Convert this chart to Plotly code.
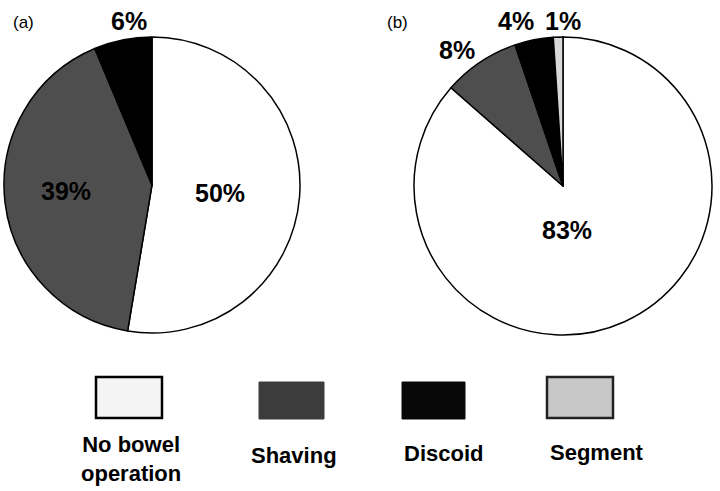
import plotly.graph_objects as go

# Pie (a)
labels_a = ["No bowel operation", "Shaving", "Discoid"]
values_a = [50, 39, 6]
text_a = ["50%", "39%", "6%"]

# Pie (b)
labels_b = ["No bowel operation", "Shaving", "Discoid", "Segment"]
values_b = [83, 8, 4, 1]
text_b = ["83%", "8%", "4%", "1%"]

# Legend entries
legend_names = ["No bowel<br>operation", "Shaving", "Discoid", "Segment"]

FONT = "Liberation Sans, Arial, sans-serif"
W, H = 720, 491

slice_colors = {
    "No bowel operation": "#ffffff",
    "Shaving": "#4e4e4e",
    "Discoid": "#000000",
    "Segment": "#d9d9d9",
}
legend_colors = ["#f4f4f4", "#3c3c3c", "#080808", "#c8c8c8"]
legend_borders = ["#000000", "#3c3c3c", "#080808", "#222222"]


def px_x(x):
    return x / W


def px_y(y):
    return 1 - y / H


def add_pie(fig, labels, values, x0, x1, y0, y1):
    # percentages are written as annotations, the pie itself only draws slices
    fig.add_trace(go.Pie(
        labels=labels, values=values,
        textinfo="none", sort=False, direction="clockwise", rotation=0,
        marker=dict(colors=[slice_colors[l] for l in labels],
                    line=dict(color="#000000", width=1.5)),
        domain=dict(x=[px_x(x0), px_x(x1)], y=[px_y(y1), px_y(y0)]),
        hoverinfo="label+value", showlegend=False,
    ))


fig = go.Figure()
add_pie(fig, labels_a, values_a, 4, 300, 37, 333)
add_pie(fig, labels_b, values_b, 414, 712, 37, 335)

# slice labels
label_pos_a = [(220, 193), (66, 191), (129, 21)]
label_pos_b = [(567, 230), (457, 50), (516, 21), (563, 21)]
for txt, (x, y) in list(zip(text_a, label_pos_a)) + list(zip(text_b, label_pos_b)):
    fig.add_annotation(text=txt, x=px_x(x), y=px_y(y), xref="paper", yref="paper",
                       xanchor="center", yanchor="middle", showarrow=False,
                       font=dict(family=FONT, size=25, color="#000000", weight="bold"))

# panel tags
for tag, x in [("(a)", 23), ("(b)", 397)]:
    fig.add_annotation(text=tag, x=px_x(x), y=px_y(22), xref="paper", yref="paper",
                       xanchor="center", yanchor="middle", showarrow=False,
                       font=dict(family=FONT, size=17, color="#000000"))

# custom legend: box above, name below
box_x = [(96, 162), (259, 324), (402, 465), (547, 613)]
box_y = [(377, 418), (382, 419), (382, 419), (377, 418)]
name_pos = [(131, 459), (294, 455), (443, 453), (597, 452)]
for i, name in enumerate(legend_names):
    x0, x1 = box_x[i]
    y0, y1 = box_y[i]
    fig.add_shape(type="rect", xref="paper", yref="paper",
                  x0=px_x(x0), x1=px_x(x1), y0=px_y(y1), y1=px_y(y0),
                  fillcolor=legend_colors[i],
                  line=dict(color=legend_borders[i], width=2.5 if i in (0, 3) else 1))
    fig.add_annotation(text=name, x=px_x(name_pos[i][0]), y=px_y(name_pos[i][1]),
                       xref="paper", yref="paper", xanchor="center", yanchor="middle",
                       showarrow=False, align="center",
                       font=dict(family=FONT, size=22, color="#000000", weight="bold"))

fig.update_layout(
    width=W, height=H,
    margin=dict(l=0, r=0, t=0, b=0),
    paper_bgcolor="#ffffff", plot_bgcolor="#ffffff",
    font=dict(family=FONT, color="#000000"),
)

# page body has an 8px default margin; drop it so the figure fills the window
fig.write_html("out.html", config={"displayModeBar": False},
               post_script="document.body.style.margin='0px';")
